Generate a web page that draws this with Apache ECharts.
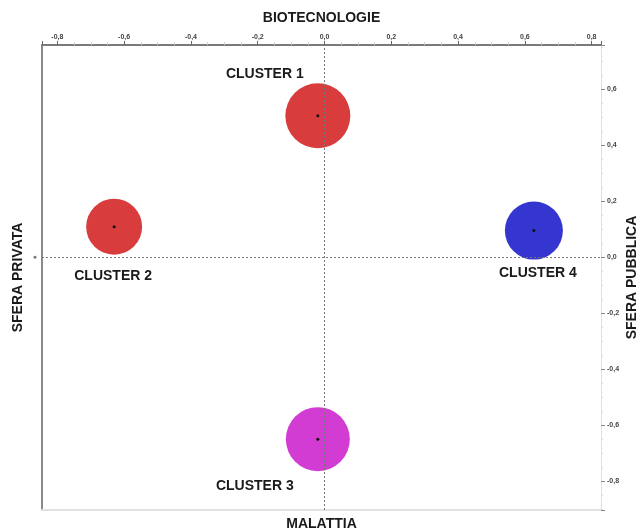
<!DOCTYPE html>
<html>
<head>
<meta charset="utf-8">
<script src="https://cdn.jsdelivr.net/npm/echarts@6/dist/echarts.min.js"></script>
<style>
html,body{margin:0;padding:0;background:#fff;}
#chart{width:640px;height:528px;}
</style>
</head>
<body>
<div id="chart"></div>
<script>
// ---- data ----
const clusters = ['CLUSTER 1', 'CLUSTER 2', 'CLUSTER 3', 'CLUSTER 4'];
const xValues = [-0.02, -0.63, -0.02, 0.627];   // BIOTECNOLOGIE
const yValues = [0.504, 0.108, -0.651, 0.094];  // SFERA PUBBLICA
const bubbleSize = [65, 56, 64, 58];
const xRange = [-0.846, 0.828];
const yRange = [-0.904, 0.757];

// ---- styling ----
const clusterColors = ['#d83c3c', '#d83c3c', '#d23cd2', '#3535d0'];
const labelOffsets = [[-53, -42], [-1, 49], [-63, 47], [4, 43]];
const FONT = 'Liberation Sans, Arial, sans-serif';

function fmt(v) {
  if (Math.abs(v) < 1e-9) return '0,0';
  return v.toFixed(1).replace('.', ',');
}

const chart = echarts.init(document.getElementById('chart'));

const bubbleData = clusters.map((name, i) => ({
  name: name,
  value: [xValues[i], yValues[i], bubbleSize[i]],
  itemStyle: { color: clusterColors[i] },
  label: { offset: labelOffsets[i] }
}));
const dotData = clusters.map((name, i) => [xValues[i], yValues[i]]);

const option = {
  animation: false,
  backgroundColor: '#fff',
  grid: { left: 42, right: 39, top: 45, bottom: 18, containLabel: false, outerBoundsMode: 'none' },
  xAxis: [
    {
      type: 'value', position: 'top', min: xRange[0], max: xRange[1], splitNumber: 8,
      name: 'BIOTECNOLOGIE', nameLocation: 'middle', nameGap: 20,
      nameTextStyle: { fontFamily: FONT, fontWeight: 'bold', fontSize: 14, color: '#1a1a1a' },
      axisLine: { show: true, onZero: false, lineStyle: { color: '#7a7a7a', width: 2 } },
      axisTick: { show: true, inside: false, length: 4, lineStyle: { color: '#666', width: 1 } },
      minorTick: { show: true, splitNumber: 4, length: 3, lineStyle: { color: '#cfcfcf' } },
      axisLabel: { formatter: fmt, showMinLabel: false, showMaxLabel: false, margin: 4,
        fontFamily: FONT, fontSize: 7, fontWeight: 'bold', color: '#444' },
      splitLine: { show: false }
    },
    {
      type: 'value', position: 'bottom', min: xRange[0], max: xRange[1], splitNumber: 8,
      name: 'MALATTIA', nameLocation: 'middle', nameGap: 7,
      nameTextStyle: { fontFamily: FONT, fontWeight: 'bold', fontSize: 14, color: '#1a1a1a' },
      axisLine: { show: true, onZero: false, lineStyle: { color: '#e2e2e2', width: 2 } },
      axisTick: { show: false }, axisLabel: { show: false }, splitLine: { show: false }
    }
  ],
  yAxis: [
    {
      type: 'value', position: 'left', min: yRange[0], max: yRange[1], splitNumber: 8,
      name: 'SFERA PRIVATA', nameLocation: 'middle', nameGap: 17, nameRotate: 90,
      nameMoveOverlap: false,
      nameTextStyle: { fontFamily: FONT, fontWeight: 'bold', fontSize: 14, color: '#1a1a1a' },
      axisLine: { show: true, onZero: false, lineStyle: { color: '#8a8a8a', width: 2 } },
      axisTick: { show: false },
      axisLabel: { formatter: v => Math.abs(v) < 1e-9 ? '●' : '', margin: 5,
        showMinLabel: false, showMaxLabel: false, fontSize: 7, color: '#777' },
      splitLine: { show: false }
    },
    {
      type: 'value', position: 'right', min: yRange[0], max: yRange[1], splitNumber: 8,
      name: 'SFERA PUBBLICA', nameLocation: 'middle', nameGap: 24, nameRotate: 90,
      nameMoveOverlap: false,
      nameTextStyle: { fontFamily: FONT, fontWeight: 'bold', fontSize: 14, color: '#1a1a1a' },
      axisLine: { show: true, onZero: false, lineStyle: { color: '#e0e0e0', width: 1 } },
      axisTick: { show: true, inside: false, length: 4, lineStyle: { color: '#888' } },
      minorTick: { show: true, splitNumber: 4, length: 2, lineStyle: { color: '#dcdcdc' } },
      axisLabel: { formatter: fmt, showMinLabel: false, showMaxLabel: false, margin: 6,
        fontFamily: FONT, fontSize: 7, fontWeight: 'bold', color: '#444' },
      splitLine: { show: false }
    }
  ],
  series: [
    {
      type: 'scatter', xAxisIndex: 0, yAxisIndex: 0,
      symbolSize: d => d[2],
      data: bubbleData,
      itemStyle: { opacity: 1 },
      label: {
        show: true, position: 'inside', formatter: p => p.name,
        fontFamily: FONT, fontWeight: 'bold', fontSize: 14, color: '#1a1a1a'
      },
      emphasis: { disabled: true },
      markLine: {
        silent: true, symbol: 'none', animation: false,
        label: { show: false },
        lineStyle: { color: '#777', type: [2, 2], width: 1 },
        data: [{ xAxis: 0 }, { yAxis: 0 }]
      },
      z: 3
    },
    {
      type: 'scatter', xAxisIndex: 0, yAxisIndex: 0,
      symbolSize: 3, data: dotData,
      itemStyle: { color: '#111', opacity: 1 }, silent: true, z: 4
    }
  ]
};
chart.setOption(option);
</script>
</body>
</html>
